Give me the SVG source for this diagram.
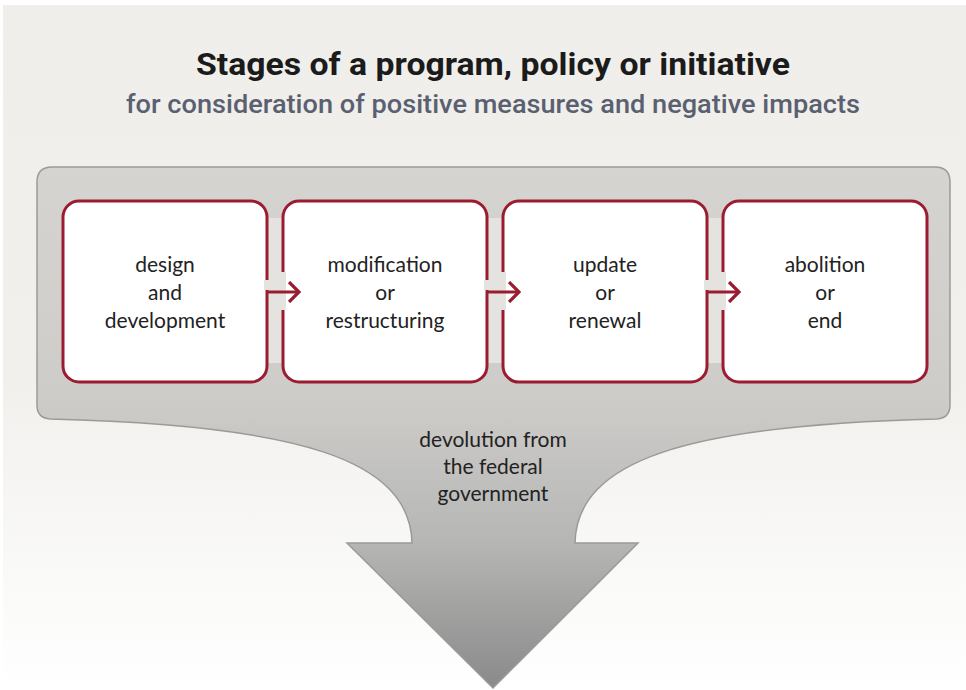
<svg xmlns="http://www.w3.org/2000/svg" width="966" height="690" viewBox="0 0 966 690">
  <defs>
    <linearGradient id="bgGrad" x1="0" y1="0" x2="0" y2="690" gradientUnits="userSpaceOnUse">
      <stop offset="0" stop-color="#efeeea"/>
      <stop offset="0.55" stop-color="#f1f0ed"/>
      <stop offset="1" stop-color="#ffffff"/>
    </linearGradient>
    <linearGradient id="panelGrad" x1="0" y1="167" x2="0" y2="688" gradientUnits="userSpaceOnUse">
      <stop offset="0" stop-color="#d5d4d0"/>
      <stop offset="0.45" stop-color="#cdccc9"/>
      <stop offset="0.72" stop-color="#b6b6b5"/>
      <stop offset="1" stop-color="#8a8a8a"/>
    </linearGradient>
    <marker id="chev" markerWidth="14" markerHeight="22" refX="12" refY="11" orient="auto" markerUnits="userSpaceOnUse">
      <path d="M2,1 L12,11 L2,21" fill="none" stroke="#9b1c31" stroke-width="3.2"/>
    </marker>
  </defs>
  <style>
    .title { font-family: Roboto, "Liberation Sans", sans-serif; font-weight: 700; font-size: 31px; fill: #1b1b1b; }
    .sub { font-family: Roboto, "Liberation Sans", sans-serif; font-weight: 500; font-size: 25px; fill: #5a6070; }
    .box { fill: #ffffff; stroke: #9b1c31; stroke-width: 3; }
    .lbl { font-family: Lato, "Open Sans", sans-serif; font-size: 21px; fill: #222222; text-anchor: middle; }
    .conn { fill: none; stroke: #9b1c31; stroke-width: 3; }
  </style>

  <!-- page background -->
  <rect x="3" y="5" width="963" height="685" fill="url(#bgGrad)"/>

  <!-- heading -->
  <text class="title" x="493" y="75" text-anchor="middle" textLength="594" lengthAdjust="spacingAndGlyphs">Stages of a program, policy or initiative</text>
  <text class="sub" x="493" y="113" text-anchor="middle" textLength="734" lengthAdjust="spacingAndGlyphs">for consideration of positive measures and negative impacts</text>

  <!-- grey panel flowing into the downward arrow -->
  <g id="devolution">
    <path d="M52,167 H935 Q950,167 950,182 V405 Q950,418 937,419 C687,425 577,460 575,543 H638 L493,688 L347,543 H412 C410,460 300,425 50,419 Q37,418 37,405 V182 Q37,167 52,167 Z" fill="url(#panelGrad)" stroke="#9a9a97" stroke-width="1.5"/>
    <!-- light band behind the stage boxes -->
    <rect x="63" y="218" width="865" height="145" fill="#e4e3e0"/>
    <text class="lbl" x="493" y="447">devolution from</text>
    <text class="lbl" x="493" y="474">the federal</text>
    <text class="lbl" x="493" y="501">government</text>
  </g>

  <g id="stage-design">
    <rect class="box" x="63" y="201" width="204" height="181" rx="16"/>
    <text class="lbl" x="165" y="272">design</text>
    <text class="lbl" x="165" y="300">and</text>
    <text class="lbl" x="165" y="328">development</text>
  </g>

  <g id="stage-modification">
    <rect class="box" x="283" y="201" width="204" height="181" rx="16"/>
    <text class="lbl" x="385" y="272">modification</text>
    <text class="lbl" x="385" y="300">or</text>
    <text class="lbl" x="385" y="328">restructuring</text>
  </g>

  <g id="stage-update">
    <rect class="box" x="503" y="201" width="204" height="181" rx="16"/>
    <text class="lbl" x="605" y="272">update</text>
    <text class="lbl" x="605" y="300">or</text>
    <text class="lbl" x="605" y="328">renewal</text>
  </g>

  <g id="stage-abolition">
    <rect class="box" x="723" y="201" width="204" height="181" rx="16"/>
    <text class="lbl" x="825" y="272">abolition</text>
    <text class="lbl" x="825" y="300">or</text>
    <text class="lbl" x="825" y="328">end</text>
  </g>

  <g id="connectors">
    <!-- openings in the box edges where the arrows pass -->
    <rect x="264" y="280" width="6" height="10" fill="#e4e3e0"/>
    <rect x="280" y="272" width="6" height="38" fill="#e4e3e0"/>
    <rect x="484" y="280" width="6" height="10" fill="#e4e3e0"/>
    <rect x="500" y="272" width="6" height="38" fill="#e4e3e0"/>
    <rect x="704" y="280" width="6" height="10" fill="#e4e3e0"/>
    <rect x="720" y="272" width="6" height="38" fill="#e4e3e0"/>
    <path class="conn" d="M267,292 H299" marker-end="url(#chev)"/>
    <path class="conn" d="M487,292 H519" marker-end="url(#chev)"/>
    <path class="conn" d="M707,292 H739" marker-end="url(#chev)"/>
  </g>
</svg>
